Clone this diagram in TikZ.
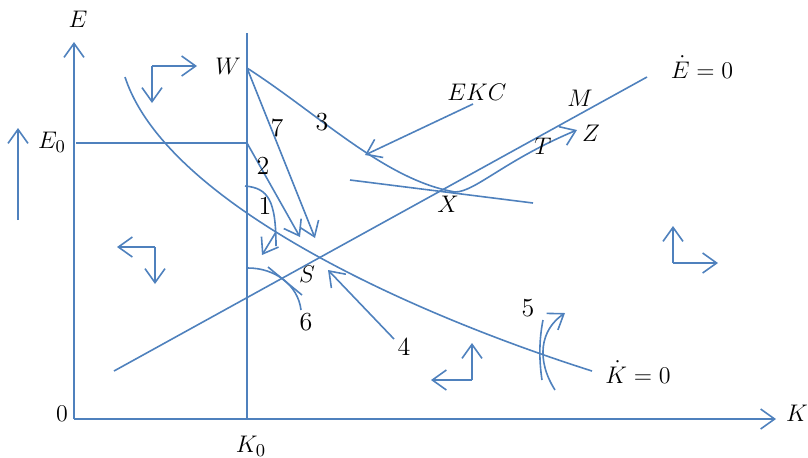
\documentclass[tikz,border=0pt]{standalone}
\usetikzlibrary{arrows.meta}
\definecolor{lineblue}{RGB}{79,129,189}

\begin{document}
\begin{tikzpicture}[x=0.5pt,y=-0.5pt,
  ln/.style={draw=lineblue,line width=0.8pt},
  arr/.style={ln,-{Straight Barb[length=7pt,width=10pt]}},
  lbl/.style={font=\fontsize{13}{15}\selectfont,inner sep=1pt}]
\useasboundingbox (0,0) rectangle (808,457);

% axes
\coordinate (O) at (74,419);
\coordinate (Etop) at (74,42);
\coordinate (Kend) at (776,419);
\draw[arr] (O) -- (Etop);
\draw[arr] (O) -- (Kend);
\node[lbl] (Elab) at (78,19) {$E$};
\node[lbl] (Klab) at (797,413) {$K$};
\node[lbl] (zero) at (62,414) {$0$};

% K0 and E0
\coordinate (K0bot) at (247,419);
\coordinate (K0top) at (247,33);
\coordinate (E0l) at (76,143);
\coordinate (E0r) at (247,143);
\draw[ln] (K0bot) -- (K0top);
\draw[ln] (E0l) -- (E0r);
\node[lbl] (K0lab) at (251,446) {$K_0$};
\node[lbl] (E0lab) at (52,142) {$E_0$};
\coordinate (upA) at (18,220);
\coordinate (upB) at (18,128);
\draw[arr] (upA) -- (upB);

% loci
\coordinate (W) at (247,68);
\coordinate (S) at (318,257);
\coordinate (X) at (442,190);
\coordinate (Edot1) at (114,371);
\coordinate (Edot2) at (647,77);
\draw[ln] (Edot1) -- (Edot2);
\node[lbl] (Edotlab) at (702,67) {$\dot{E}=0$};
\draw[ln] (125,77) .. controls (165,200) and (400,310) .. (592,371);
\node[lbl] (Kdotlab) at (638,372) {$\dot{K}=0$};

% EKC
\draw[ln] (W) .. controls (320,115) and (385,180) .. (455,192);
\draw[arr] (455,192) .. controls (475,192) and (505,160) .. (577,130);
\coordinate (xa) at (350,180);
\coordinate (xb) at (533,203);
\draw[ln] (xa) -- (xb);
\node[lbl] (EKClab) at (477,92) {$EKC$};
\coordinate (ekcA) at (473,104);
\coordinate (ekcB) at (365,155);
\draw[arr] (ekcA) -- (ekcB);
\node[lbl] (Wlab) at (228,66) {$W$};
\node[lbl] (Mlab) at (580,98) {$M$};
\node[lbl] (Tlab) at (543,146) {$T$};
\node[lbl] (Zlab) at (591,133) {$Z$};
\node[lbl] (Xlab) at (448,204) {$X$};
\node[lbl] (Slab) at (307,274) {$S$};

% paths
\coordinate (p7) at (315,238);
\coordinate (p2a) at (247,143);
\coordinate (p2b) at (300,237);
\draw[arr] (W) -- (p7);
\draw[arr] (p2a) -- (p2b);
\node[lbl] (n7) at (277,128) {7};
\node[lbl] (n3) at (322,122) {3};
\node[lbl] (n2) at (263,166) {2};
\draw[ln] (245,186) .. controls (268,188) and (276,200) .. (276,246);
\coordinate (p1a) at (276,232);
\coordinate (p1b) at (262,255);
\draw[arr] (p1a) -- (p1b);
\node[lbl] (n1) at (265,206) {1};
\draw[ln] (248,268) .. controls (275,268) and (298,285) .. (301,310);
\coordinate (p6a) at (268,267);
\coordinate (p6b) at (302,295);
\draw[ln] (p6a) -- (p6b);
\node[lbl] (n6) at (306,322) {6};
\coordinate (p4a) at (394,339);
\coordinate (p4b) at (328,270);
\draw[arr] (p4a) -- (p4b);
\node[lbl] (n4) at (404,347) {4};
\draw[ln] (543,320) .. controls (539,340) and (539,360) .. (542,380);
\draw[arr] (555,390) .. controls (536,360) and (540,330) .. (565,313);
\node[lbl] (n5) at (528,308) {5};

% direction arrows
\foreach \cx/\cy/\hx/\vy in {152/66/197/103, 155/247/117/284,
                              472/380/431/343, 673/263/718/226}{
  \draw[arr] (\cx,\cy) -- (\hx,\cy);
  \draw[arr] (\cx,\cy) -- (\cx,\vy);
}
\end{tikzpicture}
\end{document}
